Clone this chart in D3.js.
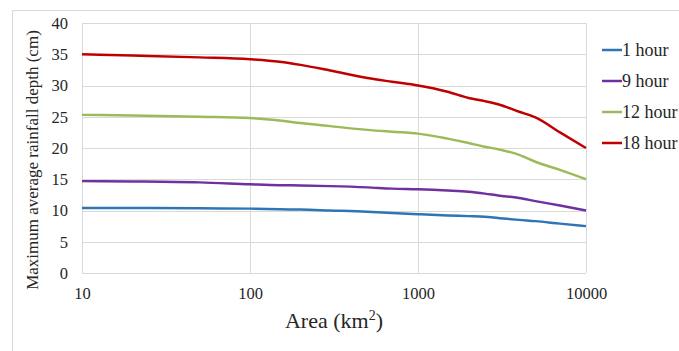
<!DOCTYPE html>
<html>
<head>
<script src="https://cdn.jsdelivr.net/npm/d3@7"></script>
<style>
  svg text { font-family: "Liberation Serif", serif !important; }
</style>
</head>
<body style="margin:0">
<svg id="chart" width="679" height="351"></svg>
<script>
// area values (km2)
const areas = [10, 20, 50, 100, 150, 200, 300, 500, 700, 1000, 1500, 2000, 2500, 3000, 4000, 5000, 7000, 10000];
const seriesNames = ["1 hour", "9 hour", "12 hour", "18 hour"];
const seriesColors = ["#2E75B6", "#7030A0", "#9BBB59", "#C00000"];
const hour1 = [10.4, 10.4, 10.35, 10.3, 10.2, 10.15, 10.0, 9.8, 9.6, 9.4, 9.2, 9.1, 9.0, 8.8, 8.5, 8.3, 7.9, 7.5];
const hour9 = [14.7, 14.65, 14.5, 14.2, 14.05, 14.0, 13.9, 13.7, 13.5, 13.4, 13.2, 13.0, 12.7, 12.4, 12.0, 11.5, 10.8, 10.0];
const hour12 = [25.3, 25.2, 25.0, 24.8, 24.4, 24.0, 23.5, 22.9, 22.6, 22.3, 21.5, 20.8, 20.2, 19.8, 18.9, 17.8, 16.5, 15.0];
const hour18 = [35.0, 34.8, 34.5, 34.2, 33.8, 33.3, 32.4, 31.2, 30.6, 30.0, 29.0, 28.0, 27.5, 27.0, 25.8, 24.9, 22.5, 20.0];
const xTicks = [10, 100, 1000, 10000];
const yTicks = [0, 5, 10, 15, 20, 25, 30, 35, 40];

const allSeries = [hour1, hour9, hour12, hour18];
const serif = "Liberation Serif";

const dimension = {
    width: 679,
    height: 351,
    margin: { top: 23, right: 93, bottom: 78, left: 82 },
}
dimension.boundedWidth = dimension.width - dimension.margin.left - dimension.margin.right;
dimension.boundedHeight = dimension.height - dimension.margin.top - dimension.margin.bottom;

const svg = d3.select("#chart")

// chart outer border
svg.append("rect")
    .attr("x", 12.5).attr("y", 10.5)
    .attr("width", 700).attr("height", 400)
    .attr("fill", "none")
    .attr("stroke", "#d9d9d9")

const bounds = svg.append("g")
    .attr("transform", `translate(${dimension.margin.left},${dimension.margin.top})`)

//SCALES
const xScale = d3.scaleLog()
    .domain([10, 10000])
    .range([0, dimension.boundedWidth])
const yScale = d3.scaleLinear()
    .domain([0, 40])
    .range([dimension.boundedHeight, 0])

//GRID
bounds.selectAll(".hgrid")
    .data(yTicks)
    .enter().append("line")
    .attr("x1", 0).attr("x2", dimension.boundedWidth)
    .attr("y1", d => Math.round(yScale(d)) + 0.5)
    .attr("y2", d => Math.round(yScale(d)) + 0.5)
    .attr("stroke", "#d9d9d9")
    .attr("stroke-width", 1)
bounds.selectAll(".vgrid")
    .data(xTicks)
    .enter().append("line")
    .attr("x1", d => Math.round(xScale(d)) + 0.5)
    .attr("x2", d => Math.round(xScale(d)) + 0.5)
    .attr("y1", 0).attr("y2", dimension.boundedHeight)
    .attr("stroke", "#d9d9d9")
    .attr("stroke-width", 1)

//AXES
const yAxis = bounds.append("g")
    .call(d3.axisLeft(yScale).tickValues(yTicks).tickSize(0).tickPadding(14))
yAxis.select(".domain").remove()
yAxis.selectAll("text")
    .style("font-family", serif)
    .attr("font-size", 16.5)
    .attr("fill", "#262626")

const xAxis = bounds.append("g")
    .attr("transform", `translate(0,${dimension.boundedHeight})`)
    .call(d3.axisBottom(xScale).tickValues(xTicks).tickFormat(d3.format("d")).tickSize(0).tickPadding(14))
xAxis.select(".domain").remove()
xAxis.selectAll("text")
    .style("font-family", serif)
    .attr("font-size", 16.5)
    .attr("fill", "#262626")

//LINES
const line = d3.line()
    .x((d, i) => xScale(areas[i]))
    .y(d => yScale(d))
    .curve(d3.curveMonotoneX)

bounds.selectAll(".series")
    .data(allSeries)
    .enter().append("path")
    .attr("d", line)
    .attr("fill", "none")
    .attr("stroke", (d, i) => seriesColors[i])
    .attr("stroke-width", 2.5)

//TITLES
const xTitle = svg.append("text")
    .attr("x", dimension.margin.left + dimension.boundedWidth / 2)
    .attr("y", 328)
    .attr("text-anchor", "middle")
    .style("font-family", serif)
    .attr("font-size", 22)
    .attr("fill", "#262626")
xTitle.append("tspan").text("Area (km")
xTitle.append("tspan").text("2").attr("font-size", 14).attr("dy", -8)
xTitle.append("tspan").text(")").attr("dy", 8)

svg.append("text")
    .attr("transform", `translate(38,${dimension.margin.top + dimension.boundedHeight / 2 + 12}) rotate(-90)`)
    .attr("text-anchor", "middle")
    .style("font-family", serif)
    .attr("font-size", 17)
    .attr("fill", "#262626")
    .text("Maximum average rainfall depth (cm)")

//LEGEND
const legend = svg.append("g")
    .attr("transform", "translate(602,50)")
const items = legend.selectAll("g")
    .data(seriesNames)
    .enter().append("g")
    .attr("transform", (d, i) => `translate(0,${i * 31})`)
items.append("line")
    .attr("x1", 0).attr("x2", 20)
    .attr("y1", 0).attr("y2", 0)
    .attr("stroke", (d, i) => seriesColors[i])
    .attr("stroke-width", 2.5)
items.append("text")
    .attr("x", 20)
    .attr("y", 6)
    .style("font-family", serif)
    .attr("font-size", 18)
    .attr("fill", "#262626")
    .text(d => d)
</script>
</body>
</html>
